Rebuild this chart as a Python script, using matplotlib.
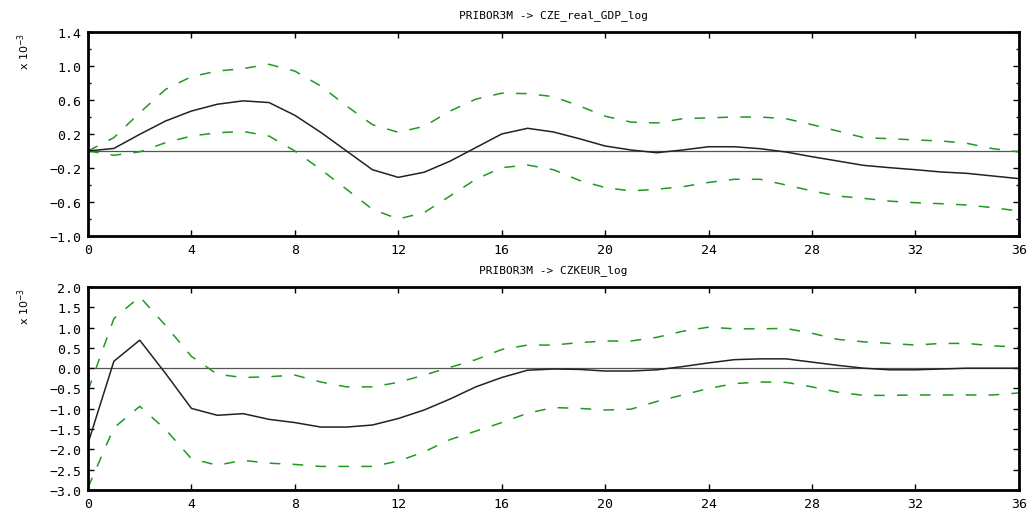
import numpy as np
import matplotlib
matplotlib.use("Agg")
import matplotlib.pyplot as plt
from matplotlib.ticker import MultipleLocator

horizon = list(range(37))

gdp_titles = "PRIBOR3M -> CZE_real_GDP_log"
gdp_mid = [0.0, 0.03, 0.196, 0.353, 0.47, 0.55, 0.59, 0.57, 0.42, 0.22, 0.0, -0.22, -0.31,
           -0.25, -0.12, 0.04, 0.2, 0.267, 0.224, 0.145, 0.059, 0.012, -0.02, 0.012, 0.05,
           0.05, 0.027, -0.012, -0.067, -0.118, -0.169, -0.196, -0.22, -0.247, -0.263,
           -0.294, -0.325]
gdp_upper = [0.0, 0.157, 0.45, 0.725, 0.875, 0.94, 0.97, 1.02, 0.94, 0.765, 0.53, 0.31, 0.22,
             0.29, 0.47, 0.61, 0.68, 0.675, 0.64, 0.53, 0.41, 0.34, 0.33, 0.38, 0.39, 0.40,
             0.40, 0.38, 0.31, 0.235, 0.157, 0.145, 0.13, 0.118, 0.09, 0.027, -0.01]
gdp_lower = [0.0, -0.05, -0.01, 0.098, 0.176, 0.215, 0.23, 0.176, 0.0, -0.216, -0.45, -0.686,
             -0.80, -0.725, -0.53, -0.333, -0.196, -0.165, -0.22, -0.345, -0.43, -0.47, -0.45,
             -0.42, -0.37, -0.333, -0.333, -0.40, -0.47, -0.53, -0.557, -0.59, -0.608, -0.62,
             -0.635, -0.667, -0.706]

fx_titles = "PRIBOR3M -> CZKEUR_log"
fx_mid = [-1.85, 0.17, 0.69, -0.13, -0.99, -1.16, -1.12, -1.26, -1.34, -1.45, -1.45, -1.40,
          -1.24, -1.03, -0.76, -0.46, -0.23, -0.05, -0.02, -0.03, -0.07, -0.07, -0.04, 0.04,
          0.13, 0.21, 0.23, 0.23, 0.15, 0.07, 0.0, -0.04, -0.04, -0.02, 0.0, 0.0, 0.0]
fx_upper = [-0.55, 1.22, 1.76, 1.05, 0.29, -0.15, -0.23, -0.21, -0.17, -0.34, -0.46, -0.46,
            -0.35, -0.17, 0.02, 0.21, 0.46, 0.57, 0.57, 0.63, 0.67, 0.67, 0.76, 0.91, 1.01,
            0.97, 0.97, 0.98, 0.86, 0.71, 0.65, 0.61, 0.57, 0.61, 0.61, 0.55, 0.52]
fx_lower = [-2.94, -1.47, -0.94, -1.51, -2.23, -2.39, -2.27, -2.34, -2.37, -2.42, -2.42, -2.42,
            -2.29, -2.06, -1.76, -1.55, -1.34, -1.11, -0.97, -0.99, -1.03, -1.01, -0.82, -0.66,
            -0.50, -0.38, -0.34, -0.35, -0.46, -0.59, -0.67, -0.67, -0.66, -0.66, -0.66, -0.66,
            -0.61]

font = "DejaVu Sans Mono"
green = "#1f9a1f"

fig = plt.figure(figsize=(10.33, 5.10), dpi=100)
ax1 = fig.add_axes([0.0852, 0.5353, 0.901, 0.400])
ax2 = fig.add_axes([0.0852, 0.0373, 0.901, 0.398])


def draw_panel(ax, title, mid, upper, lower, ylim, ystep, yminor):
    ax.axhline(0, color="#555555", lw=0.9, zorder=1)
    ax.plot(horizon, upper, color=green, lw=1.1, dashes=(7, 8))
    ax.plot(horizon, lower, color=green, lw=1.1, dashes=(7, 8))
    ax.plot(horizon, mid, color="#222222", lw=1.1)
    ax.set_xlim(0, 36)
    ax.set_ylim(*ylim)
    ax.xaxis.set_major_locator(MultipleLocator(4))
    ax.yaxis.set_major_locator(MultipleLocator(ystep))
    ax.yaxis.set_minor_locator(MultipleLocator(yminor))
    ax.tick_params(which="both", direction="in", top=True, right=True,
                   labelsize=9.5, length=4, width=1, pad=5)
    ax.tick_params(which="minor", length=2.5)
    for lab in ax.get_xticklabels() + ax.get_yticklabels():
        lab.set_family(font)
    for s in ax.spines.values():
        s.set_linewidth(2)
    ax.set_title(title, fontsize=8, family=font, pad=11)
    ax.text(-0.069, 0.91, r"x 10$^{-3}$", transform=ax.transAxes, rotation=90,
            fontsize=8, va="center", ha="center")


draw_panel(ax1, gdp_titles, gdp_mid, gdp_upper, gdp_lower, (-1.0, 1.4), 0.4, 0.2)
ax1.set_yticks([1.4, 1.0, 0.6, 0.2, -0.2, -0.6, -1.0])
ax1.set_yticklabels(["1.4", "1.0", "0.6", "0.2", "\u22120.2", "\u22120.6", "\u22121.0"],
                    family=font)
draw_panel(ax2, fx_titles, fx_mid, fx_upper, fx_lower, (-3.0, 2.0), 0.5, 0.5)
ax2.set_yticklabels([f"{v:.1f}".replace("-", "\u2212") for v in ax2.get_yticks()],
                    family=font)

fig.savefig("out.png", dpi=100)
